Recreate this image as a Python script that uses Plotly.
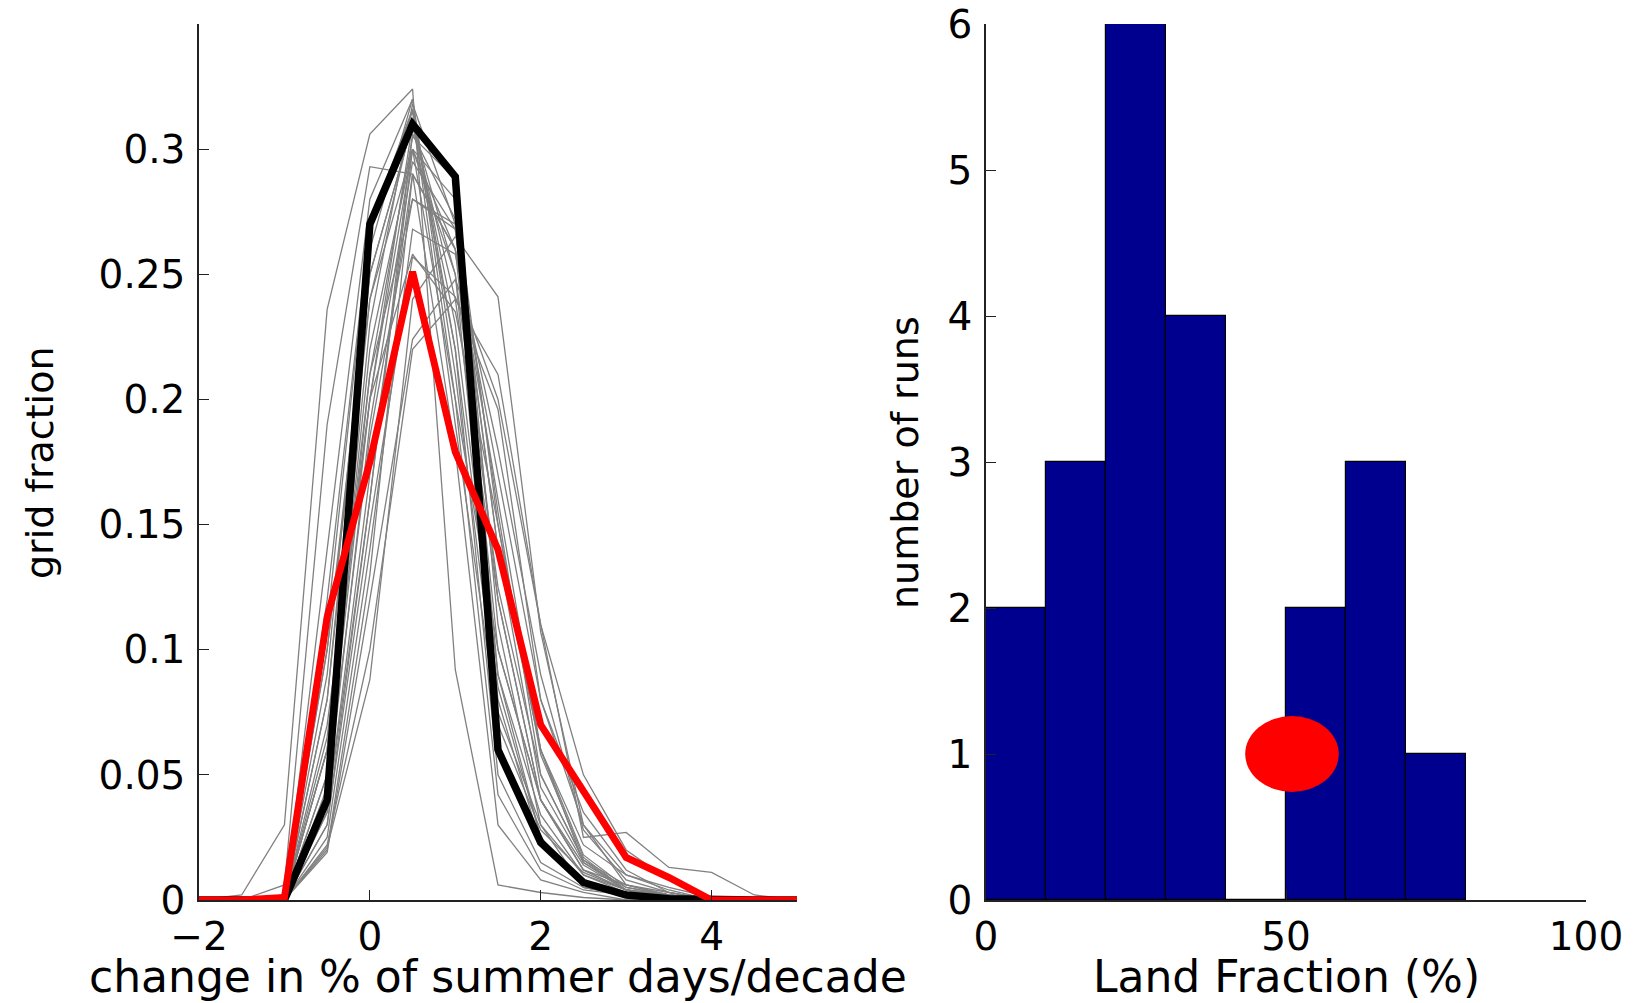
import plotly.graph_objects as go

# ---------------- data ----------------
x_bins = [-2, -1.5, -1, -0.5, 0, 0.5, 1, 1.5, 2, 2.5, 3, 3.5, 4, 4.5, 5]

black_vals = [0, 0, 0, 0.040, 0.270, 0.310, 0.289, 0.060, 0.023, 0.007, 0.002, 0.0005, 0, 0, 0]
red_vals = [0, 0, 0.001, 0.113, 0.175, 0.251, 0.179, 0.140, 0.070, 0.043, 0.017, 0.009, 0, 0, 0]

gray_runs = [
    [0, 0.002, 0.030, 0.236, 0.306, 0.324, 0.092, 0.006, 0.003, 0.001, 0, 0, 0, 0, 0],
    [0, 0, 0.006, 0.190, 0.293, 0.290, 0.180, 0.030, 0.008, 0.003, 0, 0, 0, 0, 0],
    [0, 0, 0.002, 0.120, 0.270, 0.316, 0.220, 0.050, 0.015, 0.005, 0.002, 0, 0, 0, 0],
    [0, 0, 0, 0.080, 0.250, 0.310, 0.250, 0.080, 0.022, 0.006, 0.002, 0, 0, 0, 0],
    [0, 0, 0, 0.060, 0.230, 0.318, 0.270, 0.090, 0.025, 0.005, 0.002, 0, 0, 0, 0],
    [0, 0, 0, 0.050, 0.210, 0.305, 0.288, 0.110, 0.030, 0.005, 0.002, 0, 0, 0, 0],
    [0, 0, 0, 0.021, 0.088, 0.240, 0.265, 0.241, 0.107, 0.030, 0.006, 0.002, 0, 0, 0],
    [0, 0, 0, 0.019, 0.120, 0.224, 0.248, 0.200, 0.110, 0.050, 0.020, 0.008, 0.001, 0, 0],
    [0, 0, 0, 0.030, 0.150, 0.257, 0.241, 0.196, 0.080, 0.030, 0.010, 0.005, 0.001, 0, 0],
    [0, 0, 0.002, 0.100, 0.240, 0.300, 0.200, 0.100, 0.040, 0.012, 0.004, 0.002, 0, 0, 0],
    [0, 0, 0, 0.070, 0.200, 0.310, 0.240, 0.120, 0.040, 0.012, 0.006, 0.002, 0, 0, 0],
    [0, 0, 0, 0.040, 0.190, 0.295, 0.268, 0.140, 0.045, 0.015, 0.005, 0.002, 0, 0, 0],
    [0, 0, 0, 0.090, 0.260, 0.320, 0.210, 0.075, 0.030, 0.010, 0.004, 0.001, 0, 0, 0],
    [0, 0, 0, 0.110, 0.270, 0.315, 0.190, 0.070, 0.028, 0.011, 0.004, 0.002, 0, 0, 0],
    [0, 0, 0, 0.140, 0.280, 0.320, 0.200, 0.042, 0.012, 0.004, 0.002, 0, 0, 0, 0],
    [0, 0, 0, 0.060, 0.220, 0.300, 0.260, 0.100, 0.040, 0.014, 0.004, 0.002, 0, 0, 0],
    [0, 0, 0, 0.035, 0.170, 0.290, 0.260, 0.160, 0.060, 0.018, 0.005, 0.002, 0, 0, 0],
    [0, 0, 0, 0.025, 0.140, 0.268, 0.258, 0.180, 0.090, 0.028, 0.008, 0.003, 0, 0, 0],
    [0, 0, 0, 0.080, 0.240, 0.312, 0.230, 0.090, 0.034, 0.010, 0.003, 0.001, 0, 0, 0],
    [0, 0, 0, 0.100, 0.250, 0.310, 0.220, 0.085, 0.025, 0.007, 0.002, 0.001, 0, 0, 0],
    [0, 0, 0, 0.050, 0.200, 0.300, 0.250, 0.125, 0.050, 0.016, 0.006, 0.003, 0, 0, 0],
    [0, 0, 0, 0.045, 0.185, 0.280, 0.270, 0.140, 0.060, 0.015, 0.004, 0.001, 0, 0, 0],
    [0, 0, 0, 0.030, 0.160, 0.300, 0.280, 0.150, 0.058, 0.017, 0.004, 0.001, 0, 0, 0],
    [0, 0, 0, 0.065, 0.210, 0.280, 0.268, 0.120, 0.040, 0.012, 0.004, 0.001, 0, 0, 0],
    [0, 0, 0, 0.020, 0.130, 0.290, 0.260, 0.170, 0.080, 0.035, 0.012, 0.003, 0, 0, 0],
    [0, 0, 0, 0.022, 0.100, 0.220, 0.240, 0.210, 0.110, 0.025, 0.027, 0.013, 0.011, 0.002, 0],
    [0, 0, 0, 0.060, 0.200, 0.258, 0.235, 0.150, 0.060, 0.022, 0.010, 0.004, 0, 0, 0],
    [0, 0, 0, 0.035, 0.160, 0.306, 0.272, 0.155, 0.050, 0.016, 0.004, 0.001, 0, 0, 0],
]

land_bin_centers = [5, 15, 25, 35, 45, 55, 65, 75]
land_counts = [2, 3, 6, 4, 0, 2, 3, 1]
obs_land_fraction = [51]
obs_runs = [1]

left_xticks = [-2, 0, 2, 4]
left_xticklabels = ["\u22122", "0", "2", "4"]
left_yticks = [0, 0.05, 0.1, 0.15, 0.2, 0.25, 0.3]
left_yticklabels = ["0", "0.05", "0.1", "0.15", "0.2", "0.25", "0.3"]
right_xticks = [0, 50, 100]
right_yticks = [0, 1, 2, 3, 4, 5, 6]

# ---------------- figure ----------------
FONT = "DejaVu Sans"
fig = go.Figure()

for run in gray_runs:
    fig.add_trace(go.Scatter(x=x_bins, y=run, mode="lines",
                             line=dict(color="#808080", width=1.3),
                             xaxis="x", yaxis="y", showlegend=False, hoverinfo="skip"))
fig.add_trace(go.Scatter(x=x_bins, y=black_vals, mode="lines",
                         line=dict(color="black", width=7.5),
                         xaxis="x", yaxis="y", showlegend=False))
fig.add_trace(go.Scatter(x=x_bins, y=red_vals, mode="lines",
                         line=dict(color="#ff0000", width=7),
                         xaxis="x", yaxis="y", showlegend=False))

fig.add_trace(go.Bar(x=land_bin_centers, y=land_counts, width=10,
                     marker=dict(color="#00008f", line=dict(color="black", width=1.2)),
                     xaxis="x2", yaxis="y2", showlegend=False))

# red ellipse (observed value)
half_w, half_h = 7.8, 0.26
for ox, oy in zip(obs_land_fraction, obs_runs):
    fig.add_shape(type="circle", xref="x2", yref="y2",
                  x0=ox - half_w, x1=ox + half_w, y0=oy - half_h, y1=oy + half_h,
                  fillcolor="#ff0000", line=dict(width=0), layer="above")

W, H = 1650, 1003
def px(v):
    return v / W
def py(v):
    return 1 - v / H

axis_common = dict(showline=True, linecolor="#222222", linewidth=1.5, ticks="inside",
                   ticklen=10, tickwidth=1.3, tickcolor="#222222", showgrid=False,
                   zeroline=False, mirror=False, automargin=False,
                   ticklabeloverflow="allow",
                   tickfont=dict(family=FONT, size=39, color="black"))

fig.update_layout(
    width=W, height=H, autosize=False,
    margin=dict(l=0, r=0, t=0, b=0, pad=0, autoexpand=False),
    paper_bgcolor="white", plot_bgcolor="white",
    showlegend=False,
    bargap=0,
    xaxis=dict(domain=[px(199), px(797)], range=[-2, 5], tickvals=left_xticks,
               ticktext=left_xticklabels, anchor="y",
               ticklabelstandoff=1, **axis_common),
    yaxis=dict(domain=[py(900), py(24)], range=[0, 0.35], tickvals=left_yticks,
               ticktext=left_yticklabels, anchor="x", ticklabelstandoff=4, **axis_common),
    xaxis2=dict(domain=[px(986), px(1586)], range=[0, 100], tickvals=right_xticks,
                anchor="y2", ticklabelstandoff=1, **axis_common),
    yaxis2=dict(domain=[py(900), py(24)], range=[0, 6], tickvals=right_yticks,
                anchor="x2", ticklabelstandoff=4, **axis_common),
    annotations=[
        dict(text="grid fraction", x=px(40), y=py(463), xref="paper", yref="paper",
             textangle=-90, showarrow=False, xanchor="center", yanchor="middle",
             font=dict(family=FONT, size=38, color="black")),
        dict(text="number of runs", x=px(905), y=py(463), xref="paper", yref="paper",
             textangle=-90, showarrow=False, xanchor="center", yanchor="middle",
             font=dict(family=FONT, size=38, color="black")),
        dict(text="change in % of summer days/decade", x=px(498), y=py(976),
             xref="paper", yref="paper", showarrow=False, xanchor="center",
             yanchor="middle", font=dict(family=FONT, size=44, color="black")),
        dict(text="Land Fraction (%)", x=px(1286), y=py(976),
             xref="paper", yref="paper", showarrow=False, xanchor="center",
             yanchor="middle", font=dict(family=FONT, size=44, color="black")),
    ],
)

fig.write_html(
    "out.html",
    config={"displayModeBar": False},
    post_script="document.body.style.margin='0px'; document.body.style.overflow='hidden';",
)
